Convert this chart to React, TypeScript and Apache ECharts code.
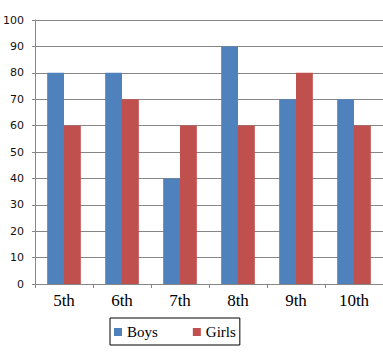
import React, { useEffect, useRef } from "react";
import * as echarts from "echarts";

const categories = ["5th", "6th", "7th", "8th", "9th", "10th"];
const boys = [80, 80, 40, 90, 70, 70];
const girls = [60, 70, 60, 60, 80, 60];
const seriesNames = ["Boys", "Girls"];

export default function App() {
  const ref = useRef<HTMLDivElement>(null);
  useEffect(() => {
    if (!ref.current) return;
    const chart = echarts.init(ref.current, null, { renderer: "svg" });
    const gray = "#868686";
    chart.setOption({
      animation: false,
      backgroundColor: "#fff",
      grid: { left: 32, top: 20, right: -3, bottom: 71, containLabel: false },
      legend: {
        data: seriesNames,
        left: 110,
        top: 318,
        icon: "rect",
        itemWidth: 8,
        itemHeight: 8,
        itemGap: 35,
        padding: [6, 4, 5, 4],
        borderColor: "#000",
        borderWidth: 1,
        textStyle: { fontFamily: "Liberation Serif", fontSize: 15, color: "#000", lineHeight: 16 },
      },
      xAxis: {
        type: "category",
        data: categories,
        axisLine: { lineStyle: { color: gray, width: 1 } },
        axisTick: { show: true, length: 4, inside: false, lineStyle: { color: gray } },
        axisLabel: { fontFamily: "Liberation Serif", fontSize: 17, color: "#000", margin: 8 },
      },
      yAxis: {
        type: "value",
        min: 0,
        max: 100,
        interval: 10,
        axisLine: { show: true, lineStyle: { color: gray, width: 1 } },
        axisTick: { show: true, length: 3, lineStyle: { color: gray } },
        splitLine: { lineStyle: { color: gray, width: 1 } },
        axisLabel: { fontFamily: "DejaVu Sans", fontSize: 11, color: "#111", margin: 11 },
      },
      series: [
        {
          name: seriesNames[0],
          type: "bar",
          data: boys,
          itemStyle: { color: "#4F81BD" },
          barGap: "0%",
          barCategoryGap: "42%",
        },
        {
          name: seriesNames[1],
          type: "bar",
          data: girls,
          itemStyle: { color: "#C0504D" },
          barGap: "0%",
          barCategoryGap: "42%",
        },
      ],
    });
    return () => chart.dispose();
  }, []);
  return (
    <div
      ref={ref}
      style={{ position: "fixed", left: 0, top: 0, width: 383, height: 355 }}
    />
  );
}
